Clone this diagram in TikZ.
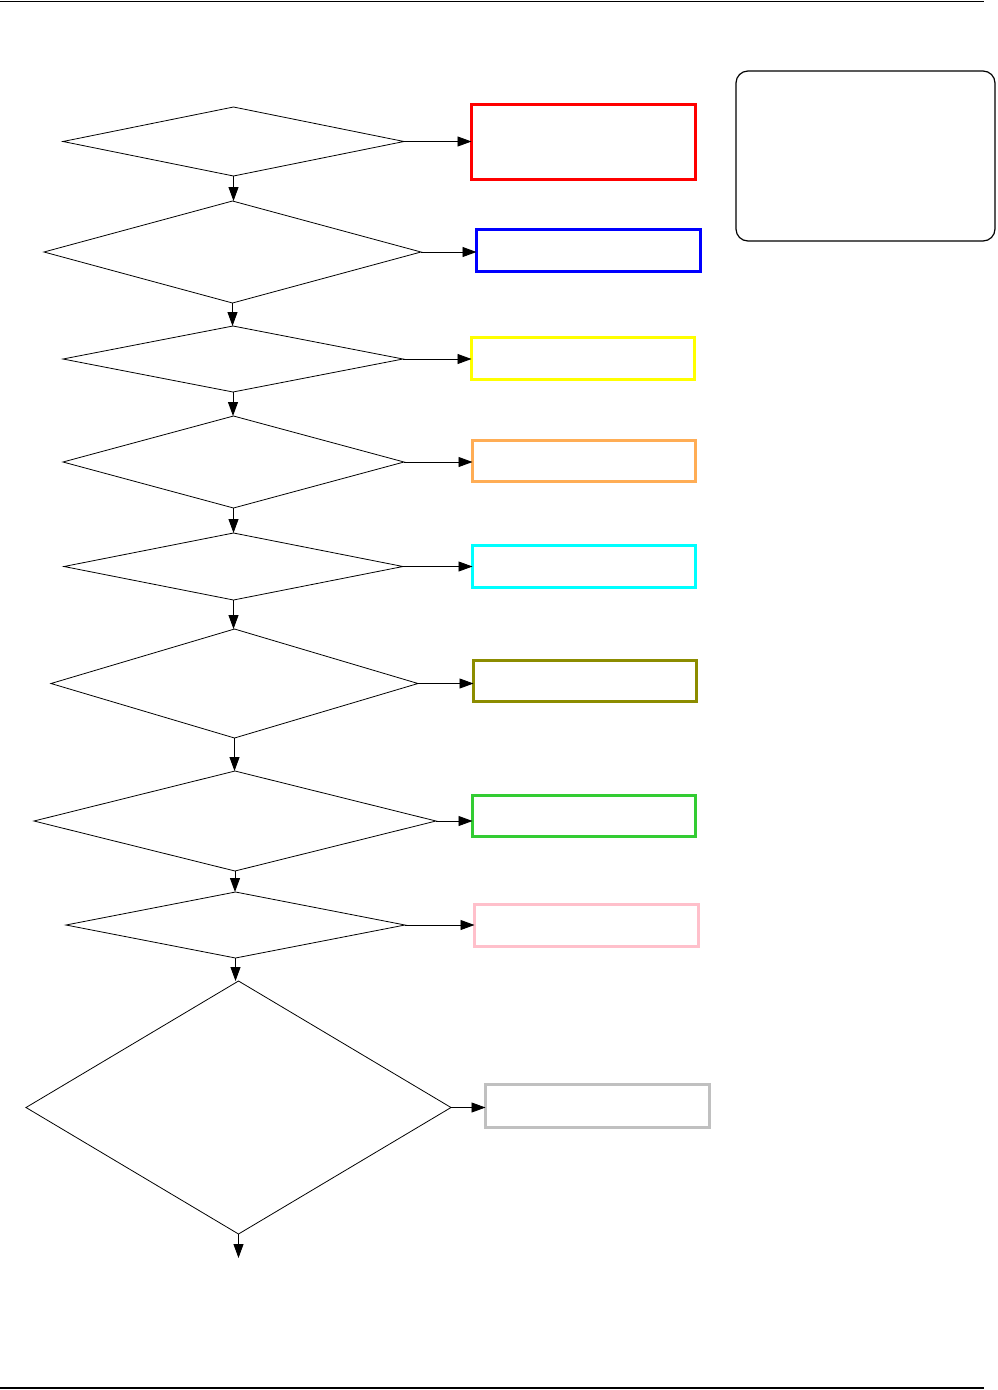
\documentclass[tikz,border=0pt]{standalone}
\usetikzlibrary{shapes.geometric,arrows.meta}
\definecolor{cRed}{RGB}{255,0,0}
\definecolor{cBlue}{RGB}{0,0,255}
\definecolor{cYellow}{RGB}{255,255,0}
\definecolor{cOrange}{RGB}{255,173,85}
\definecolor{cCyan}{RGB}{0,255,255}
\definecolor{cOlive}{RGB}{140,140,0}
\definecolor{cGreen}{RGB}{51,204,51}
\definecolor{cPink}{RGB}{255,192,203}
\definecolor{cGray}{RGB}{192,192,192}
\begin{document}
\begin{tikzpicture}[x=1pt,y=-1pt,
  dec/.style={diamond,draw,line width=0.8pt,inner sep=0pt,outer sep=0pt},
  res/.style={rectangle,draw,line width=3.2pt,inner sep=0pt,outer sep=0pt},
  arr/.style={-{Triangle[length=14pt,width=10pt]},line width=0.9pt}]
\useasboundingbox (0,0) rectangle (997,1390);
\fill[white] (0,0) rectangle (997,1390);
\coordinate (tl) at (0,1.5);
\coordinate (tr) at (984,1.5);
\coordinate (bl) at (0,1388);
\coordinate (br) at (984,1388);
\draw[line width=1.5pt] (tl) -- (tr);
\draw[line width=1.5pt] (bl) -- (br);
% legend box
\node[draw,rounded corners=12pt,line width=1.2pt,minimum width=259pt,minimum height=170pt,inner sep=0pt] (legend) at (865.5,156) {};
% decisions
\node[dec,minimum width=341pt,minimum height=69pt] (d1) at (233.5,141.5) {};
\node[dec,minimum width=377pt,minimum height=102pt] (d2) at (232.5,252) {};
\node[dec,minimum width=340pt,minimum height=66pt] (d3) at (233,359) {};
\node[dec,minimum width=341pt,minimum height=92pt] (d4) at (233.5,462) {};
\node[dec,minimum width=339pt,minimum height=67pt] (d5) at (233.5,566.5) {};
\node[dec,minimum width=367pt,minimum height=109pt] (d6) at (234.5,683.5) {};
\node[dec,minimum width=402pt,minimum height=100pt] (d7) at (235,821) {};
\node[dec,minimum width=339pt,minimum height=66pt] (d8) at (235.5,925) {};
\node[dec,minimum width=425pt,minimum height=253pt] (d9) at (238.5,1107.5) {};
\coordinate (end) at (238.5,1258);
% results
\node[res,draw=cRed,minimum width=224pt,minimum height=75pt] (r1) at (583.5,142) {};
\node[res,draw=cBlue,minimum width=224pt,minimum height=42pt] (r2) at (588.5,250.5) {};
\node[res,draw=cYellow,minimum width=223pt,minimum height=42pt] (r3) at (583,358.5) {};
\node[res,draw=cOrange,minimum width=223pt,minimum height=41pt] (r4) at (584,461) {};
\node[res,draw=cCyan,minimum width=223pt,minimum height=42pt] (r5) at (584,566.5) {};
\node[res,draw=cOlive,minimum width=223pt,minimum height=41pt] (r6) at (585,681) {};
\node[res,draw=cGreen,minimum width=223pt,minimum height=41pt] (r7) at (584,816) {};
\node[res,draw=cPink,minimum width=224pt,minimum height=42pt] (r8) at (586.5,925.5) {};
\node[res,draw=cGray,minimum width=224pt,minimum height=43pt] (r9) at (597.5,1106) {};
% vertical flow
\draw[arr] (d1.south) -- (d1.south |- d2.north);
\draw[arr] (d2.south) -- (d2.south |- d3.north);
\draw[arr] (d3.south) -- (d3.south |- d4.north);
\draw[arr] (d4.south) -- (d4.south |- d5.north);
\draw[arr] (d5.south) -- (d5.south |- d6.north);
\draw[arr] (d6.south) -- (d6.south |- d7.north);
\draw[arr] (d7.south) -- (d7.south |- d8.north);
\draw[arr] (d8.south) -- (d8.south |- d9.north);
\draw[arr] (d9.south) -- (end);
% horizontal
\draw[arr] (d1.east) -- (d1.east -| r1.west);
\draw[arr] (d2.east) -- (d2.east -| r2.west);
\draw[arr] (d3.east) -- (d3.east -| r3.west);
\draw[arr] (d4.east) -- (d4.east -| r4.west);
\draw[arr] (d5.east) -- (d5.east -| r5.west);
\draw[arr] (d6.east) -- (d6.east -| r6.west);
\draw[arr] (d7.east) -- (d7.east -| r7.west);
\draw[arr] (d8.east) -- (d8.east -| r8.west);
\draw[arr] (d9.east) -- (d9.east -| r9.west);
\end{tikzpicture}
\end{document}
